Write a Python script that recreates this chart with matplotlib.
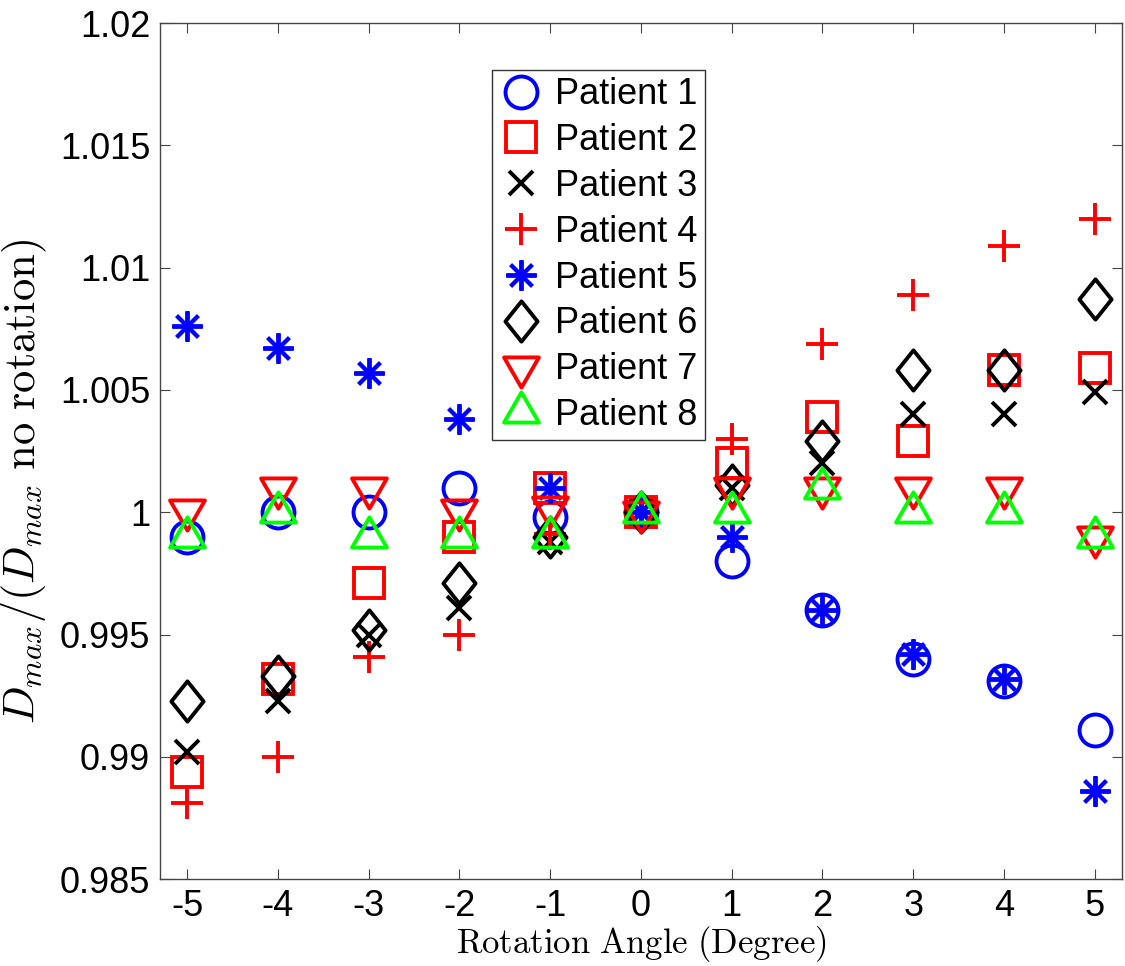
import numpy as np
import matplotlib.pyplot as plt
from matplotlib.path import Path

plt.rcParams['font.family'] = ['Liberation Sans', 'DejaVu Sans']
plt.rcParams['mathtext.fontset'] = 'cm'
plt.rcParams['axes.unicode_minus'] = False

angles = [-5, -4, -3, -2, -1, 0, 1, 2, 3, 4, 5]

p1 = [0.9990, 1.0000, 1.0000, 1.0010, 0.9998, 1.0000, 0.9980, 0.9960, 0.9940, 0.9931, 0.9911]
p2 = [0.9894, 0.9932, 0.9971, 0.9990, 1.0010, 1.0000, 1.0020, 1.0039, 1.0029, 1.0058, 1.0059]
p3 = [0.9902, 0.9923, 0.9950, 0.9961, 0.9988, 1.0000, 1.0010, 1.0020, 1.0040, 1.0040, 1.0049]
p4 = [0.9881, 0.9900, 0.9941, 0.9950, 0.9991, 1.0000, 1.0030, 1.0069, 1.0089, 1.0109, 1.0120]
p5 = [1.0076, 1.0067, 1.0057, 1.0038, 1.0010, 1.0000, 0.9990, 0.9960, 0.9942, 0.9932, 0.9886]
p6 = [0.9923, 0.9933, 0.9952, 0.9971, 0.9990, 1.0000, 1.0011, 1.0029, 1.0058, 1.0058, 1.0087]
p7 = [1.0001, 1.0010, 1.0010, 1.0001, 1.0002, 1.0000, 1.0010, 1.0010, 1.0010, 1.0010, 0.9990]
p8 = [0.9990, 1.0000, 0.9990, 0.9990, 0.9990, 1.0000, 1.0000, 1.0010, 1.0000, 1.0000, 0.9990]

labels = ['Patient %d' % i for i in range(1, 9)]
yticks = [0.985, 0.99, 0.995, 1.0, 1.005, 1.01, 1.015, 1.02]
yticklabels = ['0.985', '0.99', '0.995', '1', '1.005', '1.01', '1.015', '1.02']

# matlab style markers (triangles centred on centroid, taller diamond)
tri_up = Path([(0, 1), (-0.866, -0.5), (0.866, -0.5), (0, 1)], closed=True)
tri_dn = Path([(0, -1), (-0.866, 0.5), (0.866, 0.5), (0, -1)], closed=True)
diam = Path([(0, 1), (0.8, 0), (0, -1), (-0.8, 0), (0, 1)], closed=True)

styles = [
    (p1, 'o', (0, 0, 1), 23),
    (p2, 's', (1, 0, 0), 21),
    (p3, 'x', 'k', 17),
    (p4, '+', (1, 0, 0), 23),
    (p5, (8, 2, 0), (0, 0, 1), 22),
    (p6, diam, 'k', 29),
    (p7, tri_dn, (1, 0, 0), 29),
    (p8, tri_up, (0, 1, 0), 29),
]

fig = plt.figure(figsize=(11.25, 9.66), dpi=100)
ax = fig.add_axes([0.1422, 0.0899, 0.9973 - 0.1422, 0.9761 - 0.0899])

for (vals, mk, col, ms), lab in zip(styles, labels):
    ax.plot(angles, vals, linestyle='none', marker=mk, markersize=ms,
            markerfacecolor='none', markeredgecolor=col, markeredgewidth=2.8,
            label=lab)

ax.set_xlim(-5.3, 5.3)
ax.set_ylim(0.985, 1.02)
ax.set_xticks(angles)
ax.set_yticks(yticks)
ax.set_yticklabels(yticklabels)
ax.tick_params(direction='in', length=7, width=0.8, labelsize=26, pad=7,
               top=True, right=True, color='#444444')
for s in ax.spines.values():
    s.set_color('#444444')
    s.set_linewidth(1.0)

ax.set_xlabel(r'$\mathrm{Rotation\ Angle\ (Degree)}$', fontsize=25, labelpad=0)
ax.set_ylabel(r'$D_{max}/(D_{max}\ \mathrm{no\ rotation})$', fontsize=32)
ax.yaxis.set_label_coords(-0.115, 0.465)

leg = ax.legend(loc='upper left', bbox_to_anchor=(492 / 1125, 1 - 70 / 966),
                bbox_transform=fig.transFigure, borderaxespad=0, fontsize=26,
                numpoints=1, handlelength=1.2, handletextpad=0.35,
                labelspacing=0.3, borderpad=0.2, fancybox=False, framealpha=1)
leg.get_frame().set_edgecolor('#333333')
leg.get_frame().set_linewidth(1.0)

fig.savefig('out.png', dpi=100)
